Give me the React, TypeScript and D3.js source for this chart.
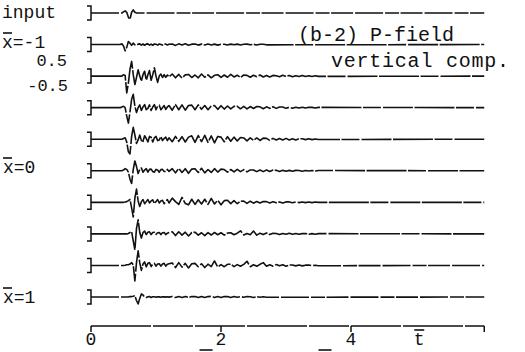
import * as d3 from 'd3';

// trace names, top to bottom
const traceNames = ['input', '-1', '-0.75', '-0.5', '-0.25', '0', '0.25', '0.5', '0.75', '1'];

// main pulse, sampled every 0.025 from t = 0.45 (amplitude, bracket = +-0.5)
const pulses = [
  [0, 0, .08, .15, .05, -.3, -.45, .05, .22, .05, 0],
  [0, .05, -.1, -.45, -.2, .22, .1, -.05, .1, -.02, -.06, .03, .05, -.04, .04, -.05, .03, .05, -.04, .03, -.05, .04, .02, -.04, .04, 0, -.04, .03, .03, -.03, .02],
  [0, 0, .1, .05, -1.2, -.5, .5, 1.05, .1, -.6, -.1, .45, 0, -.35, .1, .35, -.3, .1, .4, -.3, .1, .6, 0, -.45, 0, .15, -.1, .1, -.08, .08, -.05],
  [0, .05, .1, 0, -.6, -1.1, -.3, .6, .95, .1, -.35, 0, .2, -.2, .05, .22, -.15, -.05, .2, -.2, .05, .22, -.15, .1, .18, -.15, 0, .15, -.12, .05, .15],
  [0, 0, .05, .1, -.2, -.9, -1.05, .2, .85, .3, -.3, -.05, .3, -.1, -.15, .25, .05, -.2, .2, .15, -.2, .1, .2, -.1, -.05, .2, -.1, .05, .15, -.1, .1],
  [0, 0, .05, .15, .1, -.1, -.6, -.9, .1, .7, .3, -.2, .1, .2, -.1, .05, .15, -.1, .1, .12, -.05, -.1, .1, .05, -.1, .08, .1, -.05, -.05, .1, -.05],
  [0, 0, 0, .02, .05, .12, .2, -.4, -1.05, .3, .95, .1, -.3, .05, .2, -.1, .05, .2, -.05, .1, .18, -.08, .05, .2, -.05, .1, .15, -.1, .05, .2, -.05],
  [0, 0, 0, 0, 0, .03, .1, .15, -.5, -1.15, .4, 1.0, .1, -.3, .1, .2, -.05, .12, .15, -.05, .1, .12, -.03, .08, .1, -.05, .08, .1, -.05, .05, .1],
  [0, 0, 0, .02, .05, .05, .1, .2, .05, -1.1, .2, 1.05, .2, -.35, .1, .25, -.1, .15, .2, -.08, .1, .15, -.05, .1, .12, -.05, .1, .15, -.05, .08, .12],
  [0, 0, 0, 0, 0, 0, .03, .03, .05, .1, -.25, -.5, -.1, .22, .15, 0, -.04, .02, .03, -.03, .02, .02, -.02, .02, .01, -.02, .02, .01, -.01, .02, -.01],
];

// later ripples, sampled every 0.05 from t = 1.25
const codas = [
  [],
  [.04, -.06, .05, -.03, .05, -.05, .03, .04, -.04, .03, -.03, .04, -.03, .03, -.04, .03, .02, -.03, .03, -.02, .03, -.03, .02, .03, -.02, .02, -.03, .02, .02, -.02],
  [.15, -.12, .12, -.15, .09, .12, -.1, .08, -.12, .15, -.08, .09, -.12, .06, .1, -.09, .08, -.08, .12, -.06, .06, -.09, .08, .05, -.08, .06, -.05, .08, -.06, .05, -.06, .05, .03, -.05, .06, -.03, .05, -.05, .03, -.03, .05, -.03, .03, -.03, .02, -.02],
  [-.18, .22, -.15, .2, -.18, .15, .18, -.15, .2, -.12, .15, -.15, .12, .15, -.12, .14, -.1, .12, -.09, .09, .1, -.08, .09, -.09, .08, -.06, .08, .06, -.08, .06, -.05, .06, -.05, .05, .05, -.05, .03, -.05, .03, -.03, .03, -.03, .03, .02, -.02, .02],
  [-.18, .2, -.15, .18, -.2, .15, .24, -.22, .26, -.18, .28, -.22, .24, -.26, .2, .15, -.18, .18, -.15, .15, -.12, .12, .09, -.12, .1, -.08, .09, -.09, .08, .06, -.08, .06, -.06, .05, -.05, .06, -.05, .03, -.05, .03, .03, -.03, .03, -.03, .02, -.02],
  [.15, -.15, .18, -.12, .15, -.18, .12, .15, -.12, .18, -.15, .09, -.12, .15, -.09, .12, .09, -.1, .09, -.08, .1, -.06, .08, -.08, .06, .06, -.06, .05, -.06, .05, -.05, .05, .03, -.05, .03, -.03, .03, -.03, .03, .02, -.03, .02, -.02, .02, -.02, .02],
  [.3, .05, -.15, .35, -.08, -.18, .22, -.15, .18, -.12, .22, -.15, .28, -.12, .15, -.18, .12, .15, -.09, .12, -.1, .08, .09, -.08, .08, -.06, .06, -.05, .06, .05, -.05, .05, -.03, .03, -.05, .03, .03, -.03, .03, -.02, .02, -.02, .02, -.02, .02, 0],
  [.15, -.12, .15, -.09, .12, -.15, .09, .12, -.09, .08, -.12, .09, -.08, .1, -.06, .08, -.09, .06, .08, -.06, .05, .22, -.08, .03, -.06, .2, -.09, .05, -.05, .06, -.05, .05, .03, -.05, .03, -.03, .05, -.03, .03, -.03, .02, .03, -.02, .02, -.02, .02],
  [.18, -.15, .2, -.12, .15, -.18, .12, .15, -.09, .12, -.15, .09, -.08, .32, -.12, .06, -.09, .08, .09, -.08, .06, -.06, .08, .3, -.09, .05, -.06, .08, .2, -.06, .05, -.05, .06, -.03, .05, -.05, .03, .03, -.03, .03, -.03, .02, .03, -.02, .02, -.02],
  [.04, -.04, .03, -.03, .04, -.03, .03, .04, -.03, .03, -.03, .03, .05, -.03, .03, -.03, .03, .04, -.03, .03, -.02, .03, -.02, .03, .02, -.03, .02, -.02, .02, -.02],
];

const xTicks = [0, 2, 4];
const tEnd = 6.05;

const W = 525;
const H = 352;
const font = '"Liberation Mono", "DejaVu Sans Mono", monospace';
const ink = '#111';

export default function App() {
  const x = d3.scaleLinear().domain([0, 4]).range([91, 351]);
  const yRow = d3.scalePoint<string>().domain(traceNames).range([13, 297]);
  const amp = d3.scaleLinear().domain([-0.5, 0.5]).range([7, -7]);
  const axisY = 326;

  const line = d3.line<[number, number]>()
    .x(d => x(d[0]))
    .y(d => amp(d[1]));

  const tracePoints = (i: number): [number, number][] => {
    const pts: [number, number][] = [[0, 0]];
    pulses[i].forEach((v, k) => pts.push([0.45 + 0.025 * k, v]));
    codas[i].forEach((v, k) => pts.push([1.25 + 0.05 * k, v]));
    pts.push([tEnd, 0]);
    return pts;
  };

  const overbar = (x0: number, y0: number, w: number) => (
    <line x1={x0} x2={x0 + w} y1={y0} y2={y0} stroke={ink} strokeWidth={1.6} />
  );

  return (
    <svg width={W} height={H} style={{ position: 'absolute', left: 0, top: 0, background: '#fff' }}>
      {traceNames.map((name, i) => {
        const y0 = yRow(name)!;
        return (
          <g key={name} transform={`translate(0,${y0})`}>
            <path
              d={`M${x(0) - 4},${amp(0.5)}H${x(0)}V${amp(-0.5)}H${x(0) - 4}`}
              fill="none" stroke={ink} strokeWidth={1.5}
            />
            <path
              d={line(tracePoints(i)) ?? ''}
              fill="none" stroke={ink} strokeWidth={1.6}
              strokeDasharray={i === 0 || i > 7 ? '28 2 14 1.5 22 2' : '40 1.5 18 2 30 1.5'}
              strokeLinejoin="round"
            />
          </g>
        );
      })}

      {/* left labels */}
      <g fontFamily={font} fontSize={18} fill={ink}>
        <text x={2} y={18}>input</text>
        <text x={2} y={48}>x=-1</text>
        {overbar(3, 33, 9)}
        <text x={3} y={173}>x=0</text>
        {overbar(3, 158, 9)}
        <text x={3} y={303}>x=1</text>
        {overbar(3, 288, 9)}
      </g>
      <g fontFamily={font} fontSize={17} fill={ink} textAnchor="end">
        <text x={67} y={66}>0.5</text>
        <text x={68} y={91}>-0.5</text>
      </g>

      {/* title */}
      <g fontFamily={font} fontSize={20} fill={ink}>
        <text x={298} y={41}>(b-2) P-field</text>
        <text x={331} y={67} textLength={178}>vertical comp.</text>
      </g>

      {/* time axis */}
      <g stroke={ink} strokeWidth={1.5} fill="none">
        <line x1={x(0)} x2={x(tEnd)} y1={axisY} y2={axisY} strokeDasharray="60 2 40 2 50 2" />
        {xTicks.map(t => (
          <line key={t} x1={x(t)} x2={x(t)} y1={axisY} y2={axisY + 6} />
        ))}
        <line x1={x(tEnd)} x2={x(tEnd)} y1={axisY} y2={axisY + 6} />
      </g>
      <g fontFamily={font} fontSize={18} fill={ink} textAnchor="middle">
        {xTicks.map(t => (
          <text key={t} x={x(t)} y={345}>{t}</text>
        ))}
        <text x={x(5.05)} y={345}>t</text>
      </g>
      {overbar(x(5.05) - 5, 330, 10)}
      {overbar(x(1.67), 350, 13)}
      {overbar(x(3.5), 350, 13)}
    </svg>
  );
}
